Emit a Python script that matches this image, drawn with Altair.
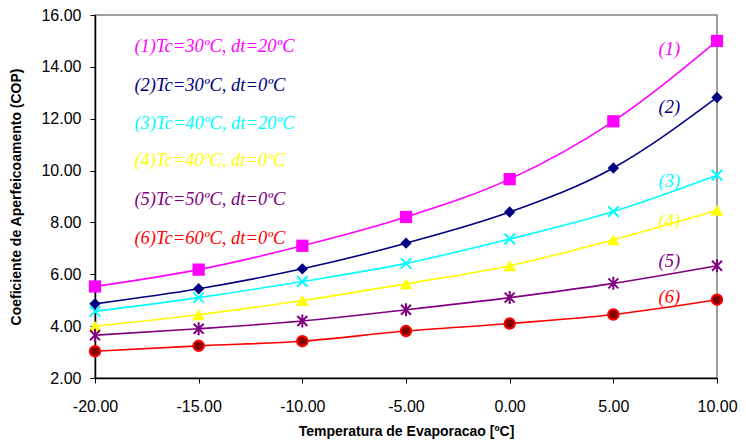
import altair as alt
import pandas as pd

# ---- data ----
temps = [-20, -15, -10, -5, 0, 5, 10]
cop1 = [5.53, 6.18, 7.10, 8.21, 9.67, 11.90, 15.00]
cop2 = [4.86, 5.44, 6.21, 7.20, 8.40, 10.10, 12.82]
cop3 = [4.57, 5.10, 5.72, 6.42, 7.36, 8.42, 9.82]
cop4 = [4.00, 4.44, 4.99, 5.63, 6.33, 7.33, 8.47]
cop5 = [3.65, 3.90, 4.20, 4.63, 5.10, 5.65, 6.33]
cop6 = [3.03, 3.24, 3.42, 3.81, 4.10, 4.45, 5.02]
series_values = [cop1, cop2, cop3, cop4, cop5, cop6]

legend_labels = [
    "(1)Tc=30ºC, dt=20ºC",
    "(2)Tc=30ºC, dt=0ºC",
    "(3)Tc=40ºC, dt=20ºC",
    "(4)Tc=40ºC, dt=0ºC",
    "(5)Tc=50ºC, dt=0ºC",
    "(6)Tc=60ºC, dt=0ºC",
]
tags = ["(1)", "(2)", "(3)", "(4)", "(5)", "(6)"]
legend_x = -18.1
legend_y = [14.8, 13.3, 11.85, 10.4, 8.9, 7.4]
tag_x = 7.7
tag_y = [14.7, 12.47, 9.6, 8.06, 6.53, 5.12]

x_ticks = [-20, -15, -10, -5, 0, 5, 10]
y_ticks = [2, 4, 6, 8, 10, 12, 14, 16]

# ---- styles ----
colors = ["#FF00FF", "#000080", "#00FFFF", "#FFFF00", "#800080", "#FF0000"]
X_PATH = "M-1,-1L1,1M-1,1L1,-1"
STAR_PATH = "M-1,-1L1,1M-1,1L1,-1M0,-1.3L0,1.3"
marker_styles = [
    dict(shape="square", size=150, filled=True, color="#FF00FF"),
    dict(shape="diamond", size=130, filled=True, color="#000080"),
    dict(shape=X_PATH, size=110, filled=False, color="#00FFFF", strokeWidth=2),
    dict(shape="triangle-up", size=160, filled=True, color="#FFFF00"),
    dict(shape=STAR_PATH, size=100, filled=False, color="#800080", strokeWidth=2),
    dict(shape="circle", size=110, filled=True, fill="#800000", stroke="#FF0000", strokeWidth=2),
]

xscale = alt.Scale(domain=[-20, 10], nice=False, zero=False)
yscale = alt.Scale(domain=[2, 16], nice=False, zero=False)

fix_minus = "replace(datum.label, '\u2212', '-')"

xenc = alt.X(
    "x:Q", scale=xscale,
    axis=alt.Axis(values=x_ticks, format=".2f", labelExpr=fix_minus, labelFlush=False,
                  title="Temperatura de Evaporacao [ºC]", titlePadding=10),
)
yenc = alt.Y(
    "y:Q", scale=yscale,
    axis=alt.Axis(values=y_ticks, format=".2f", labelExpr=fix_minus, labelFlush=False,
                  title="Coeficiente de Aperfeicoamento (COP)", titlePadding=17),
)

layers = []
for i, vals in enumerate(series_values):
    df = pd.DataFrame({"x": temps, "y": vals})
    base = alt.Chart(df)
    layers.append(
        base.mark_line(color=colors[i], strokeWidth=1.6, interpolate="monotone").encode(x=xenc, y=yenc)
    )
    st = dict(marker_styles[i])
    layers.append(base.mark_point(opacity=1, **st).encode(x=xenc, y=yenc))

leg_df = pd.DataFrame({"x": [legend_x] * 6, "y": legend_y, "label": legend_labels, "c": colors})
tag_df = pd.DataFrame({"x": [tag_x] * 6, "y": tag_y, "label": tags, "c": colors})

layers.append(
    alt.Chart(leg_df).mark_text(
        align="left", baseline="middle", font="Liberation Serif", fontStyle="italic", fontSize=18.5
    ).encode(x=xenc, y=yenc, text="label:N", color=alt.Color("c:N", scale=None))
)
layers.append(
    alt.Chart(tag_df).mark_text(
        align="center", baseline="middle", font="Liberation Serif", fontStyle="italic", fontSize=18.5
    ).encode(x=xenc, y=yenc, text="label:N", color=alt.Color("c:N", scale=None))
)

chart = (
    alt.layer(*layers)
    .properties(
        width=622, height=363,
        autosize=alt.AutoSizeParams(type="none"),
        padding={"left": 87, "top": 7, "right": 21, "bottom": 61},
        background="white",
    )
    .configure_view(stroke="#808080", strokeWidth=1.5)
    .configure_axis(
        grid=False,
        domainColor="black", domainWidth=1.5,
        tickColor="black", tickSize=5, tickWidth=1,
        labelFont="Liberation Sans", labelFontSize=16, labelColor="black",
        titleFont="Liberation Sans", titleFontSize=14, titleFontWeight="bold", titleColor="black",
    )
    .configure_axisX(labelPadding=15)
    .configure_axisY(labelPadding=9)
)

chart.save("out.html", embed_options={"renderer": "svg", "actions": False})
